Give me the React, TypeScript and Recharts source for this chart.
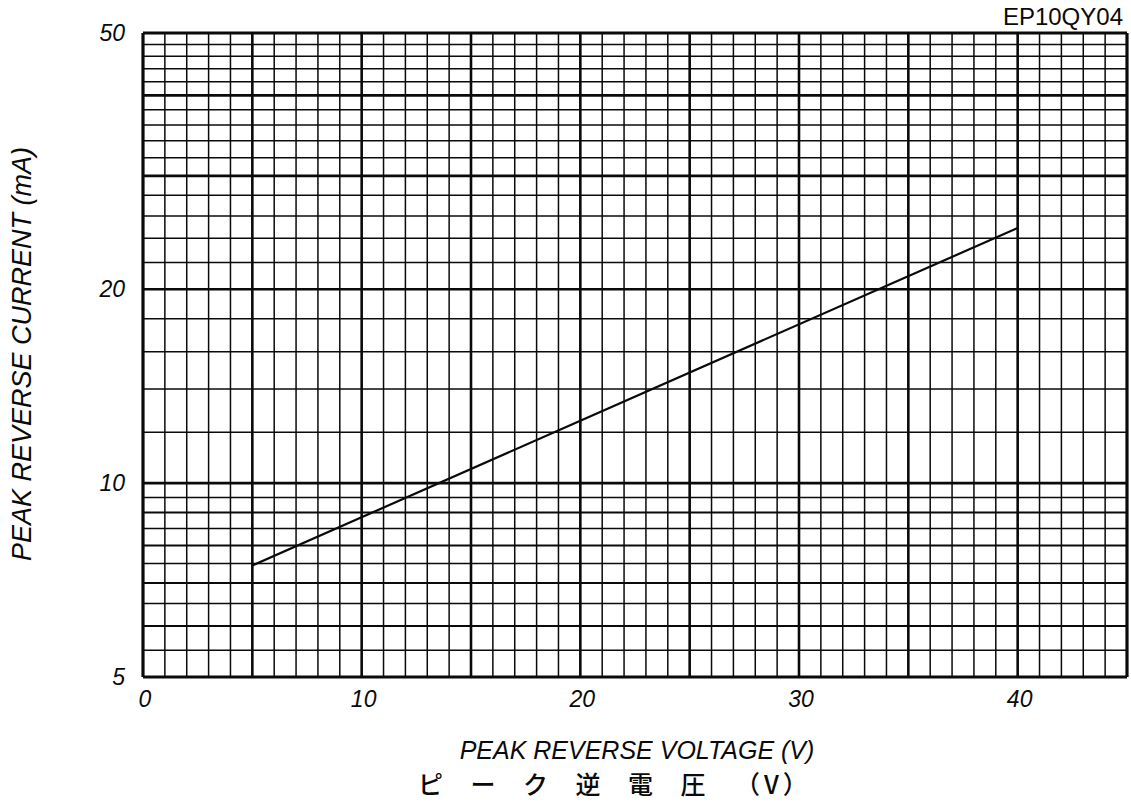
import React from 'react';
import {
  LineChart,
  Line,
  XAxis,
  YAxis,
  ReferenceLine,
} from 'recharts';

// values: peak reverse current (mA) vs voltage (V)
const voltage = [5, 20, 40];
const current = [7.45, 12.5, 24.9];

const xTicks = [0, 10, 20, 30, 40];
const yTicks = [5, 10, 20, 50];

// grid lines of the printed chart paper
const xMinor = [1, 2, 3, 4, 6, 7, 8, 9, 11, 12, 13, 14, 16, 17, 18, 19, 21, 22, 23, 24, 26, 27, 28, 29, 31, 32, 33, 34, 36, 37, 38, 39, 41, 42, 43, 44];
const xMajor = [5, 10, 15, 20, 25, 30, 35, 40];
const yMinor = [5.5, 6.5, 7.5, 8.5, 9.5, 12, 14, 16, 18, 22, 24, 26, 28, 32, 34, 36, 38, 42, 44, 46, 48];
const yMid = [6, 7, 8, 9];
const yMajor = [10, 20, 30, 40];
const xEdges = [0, 45];
const yEdges = [5, 50];

const data = voltage.map((v, i) => ({ v, i: current[i] }));

const FONT = '"Liberation Sans", Arial, Helvetica, sans-serif';
const INK = '#0a0a0a';

const tickStyle = {
  fontFamily: FONT,
  fontStyle: 'italic',
  fontSize: 23,
  fill: INK,
};

export default function App() {
  return (
    <div style={{ position: 'absolute', left: 0, top: 0, width: 1131, height: 808, background: '#fff' }}>
      <LineChart
        width={1131}
        height={808}
        data={data}
        margin={{ top: 33, right: 4, bottom: 101, left: 83 }}
      >
        <XAxis
          dataKey="v"
          type="number"
          domain={[0, 45]}
          ticks={xTicks}
          axisLine={false}
          tickLine={false}
          tickSize={0}
          tickMargin={14}
          height={30}
          tick={{ ...tickStyle, dx: 2 }}
          allowDataOverflow
        />
        <YAxis
          type="number"
          scale="log"
          domain={[5, 50]}
          ticks={yTicks}
          axisLine={false}
          tickLine={false}
          tickSize={0}
          tickMargin={18}
          width={60}
          tick={tickStyle}
          allowDataOverflow
        />
        {xMinor.map(x => (
          <ReferenceLine key={`xm${x}`} x={x} stroke={INK} strokeWidth={1.5} />
        ))}
        {yMinor.map(y => (
          <ReferenceLine key={`ym${y}`} y={y} stroke={INK} strokeWidth={1.5} />
        ))}
        {yMid.map(y => (
          <ReferenceLine key={`yd${y}`} y={y} stroke={INK} strokeWidth={2} />
        ))}
        {xMajor.map(x => (
          <ReferenceLine key={`xM${x}`} x={x} stroke={INK} strokeWidth={2.6} />
        ))}
        {yMajor.map(y => (
          <ReferenceLine key={`yM${y}`} y={y} stroke={INK} strokeWidth={2.6} />
        ))}
        {xEdges.map(x => (
          <ReferenceLine key={`xe${x}`} x={x} stroke={INK} strokeWidth={3.2} />
        ))}
        {yEdges.map(y => (
          <ReferenceLine key={`ye${y}`} y={y} stroke={INK} strokeWidth={3.2} />
        ))}
        <Line
          type="linear"
          dataKey="i"
          stroke={INK}
          strokeWidth={2.2}
          dot={false}
          isAnimationActive={false}
        />
      </LineChart>

      <div
        style={{
          position: 'absolute',
          right: 8,
          top: 3,
          fontFamily: FONT,
          fontSize: 24,
          color: INK,
        }}
      >
        EP10QY04
      </div>

      <div
        style={{
          position: 'absolute',
          left: 22,
          top: 354,
          transform: 'translate(-50%, -50%) rotate(-90deg)',
          whiteSpace: 'nowrap',
          fontFamily: FONT,
          fontStyle: 'italic',
          fontSize: 27,
          color: INK,
        }}
      >
        PEAK REVERSE CURRENT (mA)
      </div>

      <div
        style={{
          position: 'absolute',
          left: 637,
          top: 736,
          transform: 'translateX(-50%)',
          whiteSpace: 'nowrap',
          fontFamily: FONT,
          fontStyle: 'italic',
          fontSize: 25,
          color: INK,
        }}
      >
        PEAK REVERSE VOLTAGE (V)
      </div>

      <div
        style={{
          position: 'absolute',
          left: 418,
          top: 768,
          whiteSpace: 'nowrap',
          fontFamily: '"Noto Sans CJK JP", sans-serif',
          fontWeight: 500,
          fontSize: 25,
          lineHeight: '30px',
          color: INK,
          letterSpacing: 27.5,
        }}
      >
        ピーク逆電圧
        <span style={{ marginLeft: 2, letterSpacing: 4 }}>（V）</span>
      </div>
    </div>
  );
}
